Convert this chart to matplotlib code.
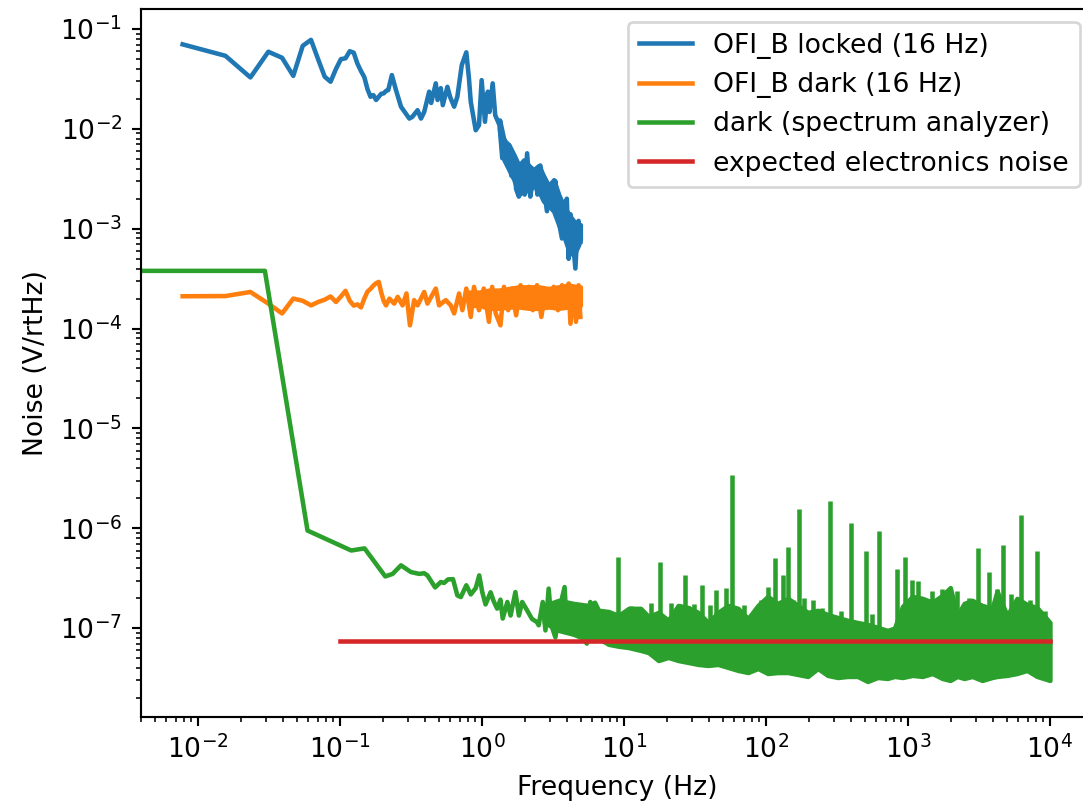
import numpy as np
import matplotlib
matplotlib.use('Agg')
import matplotlib.pyplot as plt

# ---- OFI_B locked (16 Hz)
locked_f = [0.0078, 0.0156, 0.0234, 0.0313, 0.0391, 0.0469, 0.0547, 0.0625, 0.0703, 0.0781,
            0.0859, 0.0938, 0.1016, 0.1094, 0.1172, 0.125, 0.1328, 0.1406, 0.1484, 0.1563,
            0.1641, 0.1719, 0.1797, 0.1875, 0.1953, 0.2031, 0.2109, 0.2188,
            0.232, 0.248, 0.269, 0.308, 0.323, 0.352, 0.372, 0.392, 0.425, 0.439,
            0.473, 0.487, 0.513, 0.53, 0.571, 0.596, 0.637, 0.671, 0.721, 0.776,
            0.81, 0.834, 0.904, 0.953, 0.995, 1.05, 1.10, 1.13, 1.19, 1.24,
            1.33, 1.39, 1.45, 1.51, 1.55, 1.61, 1.68, 1.74, 1.82, 1.92,
            2.0, 2.08, 2.19, 2.28, 2.37, 2.46, 2.58, 2.71, 2.87, 3.02,
            3.16, 3.29, 3.47, 3.66, 3.82, 3.96, 4.08, 4.2, 4.33, 4.55,
            4.68, 4.79, 4.93]
locked_v = [0.0703, 0.054, 0.0328, 0.0593, 0.0516, 0.034, 0.068, 0.078, 0.0495, 0.0333,
            0.0297, 0.040, 0.050, 0.051, 0.060, 0.058, 0.045, 0.038, 0.033, 0.025,
            0.021, 0.0218, 0.0195, 0.021, 0.0225, 0.0227, 0.024, 0.0245,
            0.0346, 0.0245, 0.0167, 0.0127, 0.0132, 0.0154, 0.0127, 0.0148, 0.0236, 0.0182,
            0.0286, 0.0195, 0.0256, 0.0173, 0.0264, 0.021, 0.0167, 0.021, 0.0436, 0.0585,
            0.032, 0.0187, 0.0097, 0.0109, 0.0308, 0.0118, 0.0236, 0.0148, 0.0286, 0.0137,
            0.0109, 0.0051, 0.0077, 0.0043, 0.0069, 0.0034, 0.0051, 0.0025, 0.0021, 0.0037,
            0.0022, 0.0057, 0.0021, 0.0031, 0.0034, 0.0022, 0.0043, 0.0027, 0.0015, 0.0025,
            0.0017, 0.0030, 0.0012, 0.0008, 0.0015, 0.0020, 0.0005, 0.0014, 0.0009, 0.0004,
            0.00086, 0.0012, 0.00074]
# where the locked trace is a solid band: its upper / lower edge
locked_band_f = [1.33, 1.43, 1.55, 1.68, 1.82, 1.97, 2.14, 2.31, 2.51, 2.71,
                 2.95, 3.20, 3.47, 3.76, 4.08, 4.42, 4.79, 4.93]
locked_band_hi = [0.0123, 0.0077, 0.0069, 0.0055, 0.0043, 0.0049, 0.0043, 0.0039, 0.0043, 0.0034,
                  0.0027, 0.0031, 0.0022, 0.0017, 0.0014, 0.0012, 0.0011, 0.0011]
locked_band_lo = [0.0098, 0.0049, 0.0039, 0.0031, 0.0022, 0.0024, 0.0024, 0.0027, 0.0024, 0.0019,
                  0.0017, 0.0015, 0.0011, 0.00086, 0.00061, 0.00054, 0.00069, 0.00078]

# ---- OFI_B dark (16 Hz)
dark_f = [0.0078, 0.0156, 0.0234, 0.0313, 0.0391, 0.0469, 0.0547, 0.0625, 0.0703, 0.0781,
          0.0859, 0.0938, 0.1016, 0.1094, 0.1172, 0.125, 0.1328, 0.1406, 0.1484, 0.1563,
          0.1641, 0.1719, 0.1797, 0.1875, 0.1953, 0.2031,
          0.211, 0.223, 0.241, 0.255, 0.276, 0.294, 0.311, 0.333, 0.352, 0.392,
          0.413, 0.473, 0.499, 0.556, 0.603, 0.637, 0.69, 0.728, 0.776, 0.834,
          0.879, 0.953, 1.03, 1.12, 1.18, 1.25, 1.35, 1.43, 1.53, 1.63,
          1.74, 1.87, 2.0, 2.14, 2.28, 2.44, 2.62, 2.80, 2.99, 3.20,
          3.43, 3.66, 3.86, 4.08, 4.2, 4.42, 4.59, 4.79, 4.93]
dark_v = [2.11e-4, 2.12e-4, 2.33e-4, 1.78e-4, 1.42e-4, 2.0e-4, 1.9e-4, 1.71e-4, 1.85e-4, 1.95e-4,
          2.1e-4, 1.85e-4, 2.1e-4, 2.39e-4, 1.9e-4, 1.7e-4, 1.75e-4, 1.63e-4, 2.0e-4, 2.35e-4,
          2.5e-4, 2.7e-4, 2.85e-4, 2.94e-4, 2.3e-4, 1.9e-4,
          1.71e-4, 2.0e-4, 1.78e-4, 2.08e-4, 1.71e-4, 2.25e-4, 1.08e-4, 1.93e-4, 1.71e-4, 2.33e-4,
          1.78e-4, 2.52e-4, 1.71e-4, 1.93e-4, 1.71e-4, 1.42e-4, 2.25e-4, 1.53e-4, 2.52e-4, 1.31e-4,
          2.62e-4, 1.53e-4, 2.52e-4, 1.17e-4, 2.62e-4, 1.42e-4, 1.08e-4, 2.62e-4, 1.53e-4, 2.52e-4,
          1.36e-4, 2.72e-4, 1.65e-4, 2.62e-4, 1.53e-4, 2.72e-4, 1.31e-4, 2.43e-4, 1.65e-4, 2.62e-4,
          1.53e-4, 2.72e-4, 1.93e-4, 2.83e-4, 1.12e-4, 2.62e-4, 1.17e-4, 2.72e-4, 1.31e-4]
dark_band_f = [0.81, 0.953, 1.12, 1.31, 1.55, 1.82, 2.14, 2.51, 2.95, 3.47, 4.08, 4.79, 4.93]
dark_band_hi = [2.32e-4, 2.32e-4, 2.43e-4, 2.43e-4, 2.52e-4, 2.62e-4, 2.62e-4, 2.62e-4, 2.52e-4,
                2.62e-4, 2.72e-4, 2.62e-4, 2.62e-4]
dark_band_lo = [1.71e-4, 1.71e-4, 1.6e-4, 1.6e-4, 1.65e-4, 1.65e-4, 1.6e-4, 1.6e-4, 1.65e-4,
                1.6e-4, 1.65e-4, 1.71e-4, 1.71e-4]

# ---- dark (spectrum analyzer), sparse low-frequency part
sa_f = [0.0, 0.0296, 0.0591, 0.120, 0.149, 0.2085, 0.235, 0.269, 0.316, 0.361,
        0.392, 0.413, 0.468, 0.513, 0.541, 0.577, 0.625, 0.671, 0.71, 0.776,
        0.834, 0.904, 0.957, 1.005, 1.06, 1.15, 1.21, 1.28, 1.35, 1.40,
        1.51, 1.59, 1.72, 1.82, 1.92, 2.08, 2.25, 2.44, 2.51, 2.68,
        2.80, 2.95, 3.11, 3.29, 3.56, 3.82, 3.97, 4.30, 4.55, 4.74,
        4.93, 5.48, 5.79, 6.11, 6.62]
sa_v = [3.79e-4, 3.79e-4, 9.5e-7, 6.0e-7, 6.3e-7, 3.3e-7, 3.5e-7, 4.26e-7, 3.65e-7, 3.5e-7,
        3.55e-7, 3.38e-7, 2.56e-7, 2.9e-7, 2.84e-7, 3.08e-7, 3.1e-7, 2.13e-7, 2.05e-7, 2.69e-7,
        2.18e-7, 2.52e-7, 3.38e-7, 2.3e-7, 1.73e-7, 2.29e-7, 1.86e-7, 1.57e-7, 1.93e-7, 1.25e-7,
        1.83e-7, 1.34e-7, 2.3e-7, 1.34e-7, 1.83e-7, 1.51e-7, 1.24e-7, 1.15e-7, 1.07e-7, 1.83e-7,
        9.5e-8, 2.49e-7, 1.03e-7, 8.1e-8, 1.69e-7, 2.58e-7, 9.5e-8, 1.29e-7, 1.63e-7, 1.63e-7,
        8.8e-8, 7.0e-8, 1.83e-7, 8.8e-8, 1.11e-7]

# dense part of the same trace: upper / lower edge of the band
band_f = [2.75, 3.47, 4.42, 5.6, 6.21, 6.62, 7.79, 9.15, 10.8, 13.1,
          14.9, 17.5, 20.5, 24.1, 28.4, 33.3, 39.2, 46.0, 54.1, 63.6,
          74.8, 87.9, 103, 121, 143, 168, 197, 232, 272, 320,
          376, 442, 520, 611, 718, 804, 915, 1076, 1265, 1486,
          1746, 1986, 2223, 2490, 2835, 3332, 3917, 4246, 4990, 5865,
          6896, 8110, 10000]
band_hi = [1.69e-7, 1.9e-7, 1.77e-7, 1.69e-7, 1.82e-7, 1.51e-7, 1.47e-7, 1.34e-7, 1.58e-7, 1.58e-7,
           1.31e-7, 1.44e-7, 1.2e-7, 1.69e-7, 1.61e-7, 1.44e-7, 1.14e-7, 1.44e-7, 1.69e-7, 1.58e-7,
           1.25e-7, 1.69e-7, 2.08e-7, 1.77e-7, 1.99e-7, 1.69e-7, 1.44e-7, 1.51e-7, 1.37e-7, 1.28e-7,
           1.2e-7, 1.14e-7, 1.09e-7, 1.02e-7, 9.5e-8, 1.0e-7, 1.65e-7, 2.08e-7, 1.99e-7, 1.82e-7,
           2.13e-7, 2.55e-7, 1.34e-7, 1.77e-7, 1.9e-7, 1.69e-7, 1.58e-7, 2.35e-7, 1.34e-7, 1.99e-7,
           1.73e-7, 1.61e-7, 1.14e-7]
band_lo = [1.14e-7, 9.5e-8, 8.7e-8, 7.55e-8, 7.55e-8, 7.9e-8, 6.9e-8, 6.6e-8, 6.4e-8, 6.0e-8,
           5.7e-8, 4.75e-8, 5.1e-8, 4.75e-8, 4.54e-8, 4.34e-8, 4.24e-8, 4.34e-8, 4.05e-8, 3.78e-8,
           3.6e-8, 3.95e-8, 3.52e-8, 3.6e-8, 3.6e-8, 3.44e-8, 3.29e-8, 3.95e-8, 3.37e-8, 3.21e-8,
           3.29e-8, 3.29e-8, 2.93e-8, 3.21e-8, 3.14e-8, 3.29e-8, 3.21e-8, 3.37e-8, 3.29e-8, 3.52e-8,
           3.14e-8, 3.0e-8, 3.29e-8, 3.14e-8, 3.29e-8, 3.0e-8, 3.21e-8, 3.29e-8, 3.37e-8, 3.52e-8,
           3.78e-8, 3.29e-8, 3.0e-8]

# lines sticking out of the band
spike_f = [9.06, 11.3, 12.9, 15.5, 17.9, 21.5, 26.9, 28.4, 31.0, 35.7,
           40.5, 44.8, 52.1, 57.7, 63.6, 70.0, 92.3, 104, 115, 132,
           143, 155, 172, 185, 215, 250, 284, 340, 397, 509,
           560, 628, 844, 950, 1064, 1186, 1470, 1746, 2200,
           2700, 3140, 3715, 4250, 4656, 5300, 6254, 7200, 8110, 9200]
spike_v = [5.2e-7, 1.65e-7, 1.61e-7, 1.8e-7, 4.6e-7, 1.77e-7, 3.38e-7, 1.65e-7, 1.75e-7, 2.69e-7,
           1.7e-7, 2.39e-7, 2.54e-7, 3.4e-6, 1.58e-7, 1.7e-7, 1.9e-7, 2.6e-7, 5.1e-7, 3.38e-7,
           6.5e-7, 1.9e-7, 1.57e-6, 1.99e-7, 1.9e-7, 1.6e-7, 1.88e-6, 1.5e-7, 1.13e-6, 5.9e-7,
           1.4e-7, 9.4e-7, 3.95e-7, 5.2e-7, 3.06e-7, 2.97e-7, 2.35e-7, 2.48e-7, 2.35e-7,
           2.0e-7, 6.4e-7, 3.65e-7, 2.45e-7, 6.8e-7, 2.2e-7, 1.35e-6, 1.9e-7, 5.9e-7, 1.5e-7]

# ---- expected electronics noise
elec_f = [0.1, 10000]
elec_v = [7.4e-8, 7.4e-8]

lw = 1.7

fig = plt.figure(figsize=(1083/192, 805/192), dpi=192)
ax = fig.add_axes([0.1302, 0.1093, 0.879, 0.8799])

l_lk, = ax.loglog(locked_f, locked_v, lw=lw, label='OFI_B locked (16 Hz)')
ax.fill_between(locked_band_f, locked_band_lo, locked_band_hi, color=l_lk.get_color(), lw=lw)

l_dk, = ax.loglog(dark_f, dark_v, lw=lw, label='OFI_B dark (16 Hz)')
ax.fill_between(dark_band_f, dark_band_lo, dark_band_hi, color=l_dk.get_color(), lw=lw)

l_sa, = ax.loglog(sa_f, sa_v, lw=lw, label='dark (spectrum analyzer)')
c_sa = l_sa.get_color()
ax.fill_between(band_f, band_lo, band_hi, color=c_sa, lw=lw)
ax.vlines(spike_f, 9e-8, spike_v, color=c_sa, lw=lw)

ax.loglog(elec_f, elec_v, lw=lw, label='expected electronics noise')

ax.set_xlim(0.00397, 20100)
ax.set_ylim(1.29e-8, 0.16)
ax.set_xticks([1e-2, 1e-1, 1e0, 1e1, 1e2, 1e3, 1e4])
ax.set_yticks([1e-7, 1e-6, 1e-5, 1e-4, 1e-3, 1e-2, 1e-1])
ax.set_xlabel('Frequency (Hz)')
ax.set_ylabel('Noise (V/rtHz)')
ax.legend(loc='upper right')

fig.savefig('out.png', dpi=192)
